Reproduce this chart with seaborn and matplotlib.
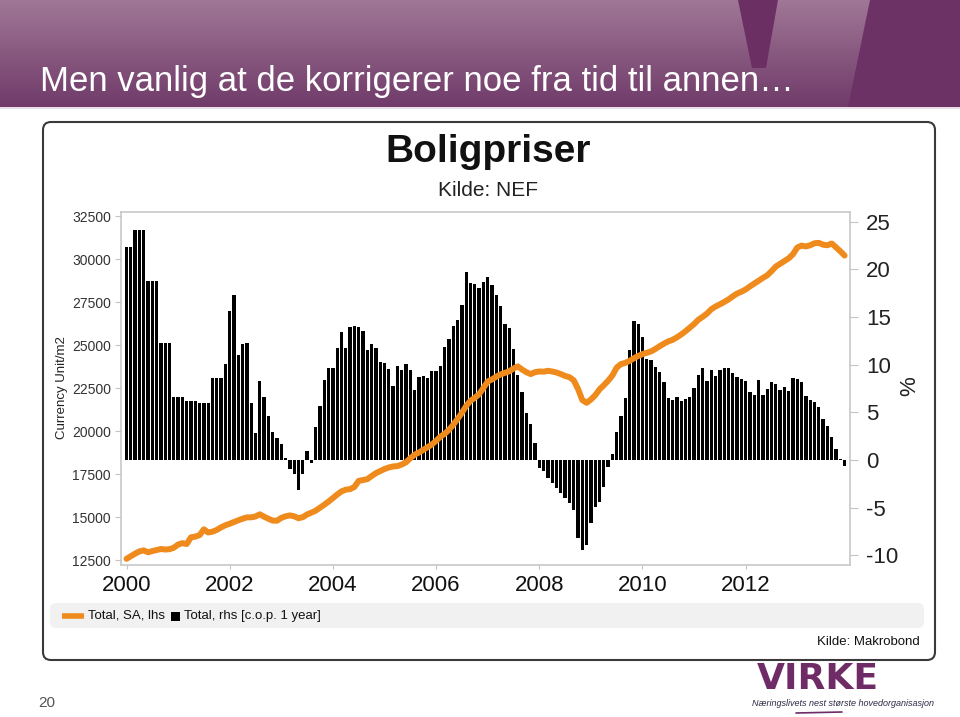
import numpy as np
import pandas as pd
import matplotlib
matplotlib.use("Agg")
import matplotlib.pyplot as plt
import seaborn as sns
from matplotlib import font_manager
from matplotlib.patches import FancyBboxPatch, Polygon, Rectangle

# ---------------- data ----------------
start_period = "2000-01"
end_period = "2013-12"

# Total, SA, lhs  (Currency Unit/m2), monthly
price_sa = [
    12570, 12720, 12870, 13000, 13060, 12950, 13020, 13080, 13140, 13110, 13130, 13215,
    13400, 13480, 13430, 13820, 13860, 13950, 14285, 14100, 14150, 14250, 14400, 14520,
    14610, 14710, 14810, 14900, 14980, 14980, 15030, 15157, 15020, 14900, 14790, 14785,
    14950, 15040, 15095, 15040, 14930, 14990, 15150, 15255, 15370, 15540, 15715, 15900,
    16100, 16310, 16490, 16590, 16620, 16750, 17100, 17150, 17200, 17380, 17550, 17670,
    17790, 17880, 17940, 17960, 18050, 18180, 18420, 18620, 18750, 18900, 19060, 19215,
    19430, 19670, 19840, 20070, 20370, 20700, 21060, 21460, 21760, 21930, 22140, 22500,
    22880, 23000, 23160, 23290, 23380, 23470, 23630, 23760, 23570, 23420, 23310, 23420,
    23460, 23450, 23500, 23460, 23400, 23310, 23200, 23130, 22950, 22450, 21800, 21640,
    21830, 22080, 22420, 22660, 22920, 23230, 23690, 23890, 23960, 24080, 24230, 24360,
    24470, 24545, 24630, 24770, 24930, 25080, 25210, 25300, 25445, 25610, 25800, 26010,
    26220, 26470, 26640, 26830, 27080, 27240, 27365, 27500, 27650, 27830, 27990, 28100,
    28230, 28410, 28575, 28740, 28900, 29050, 29290, 29560, 29720, 29880, 30040, 30280,
    30670, 30780, 30730, 30800, 30915, 30940, 30830, 30800, 30900, 30680, 30450, 30200,
]

# Total, rhs [c.o.p. 1 year]  (%), monthly
yoy_change = [
    22.3, 22.3, 24.1, 24.1, 24.1, 18.8, 18.8, 18.8, 12.3, 12.3, 12.3, 6.65,
    6.65, 6.65, 6.2, 6.2, 6.2, 5.95, 5.95, 5.95, 8.65, 8.65, 8.65, 10.05,
    15.6, 17.3, 11.0, 12.2, 12.3, 5.95, 2.8, 8.3, 6.65, 4.6, 2.9, 2.3,
    1.7, 0.2, -0.9, -1.5, -3.1, -1.5, 0.9, -0.35, 3.5, 5.7, 8.4, 9.7,
    9.7, 11.7, 13.4, 11.75, 13.9, 14.1, 13.9, 13.55, 11.55, 12.15, 11.8, 10.3,
    10.15, 9.55, 7.8, 9.9, 9.45, 10.1, 9.45, 7.35, 8.7, 8.8, 8.6, 9.3,
    9.35, 9.9, 11.9, 12.7, 14.1, 14.7, 16.25, 19.7, 18.6, 18.5, 18.0, 18.7,
    19.25, 18.4, 17.3, 16.2, 14.25, 13.8, 11.6, 8.9, 7.1, 4.9, 3.75, 1.75,
    -0.8, -1.15, -1.85, -2.45, -2.9, -3.5, -3.95, -4.55, -5.2, -8.15, -9.4, -8.9,
    -6.65, -4.9, -4.4, -2.8, -0.7, 0.63, 2.9, 4.6, 6.5, 11.55, 14.6, 14.3,
    12.9, 10.6, 10.5, 9.8, 9.2, 8.2, 6.55, 6.3, 6.65, 6.2, 6.4, 6.65,
    7.6, 8.95, 9.7, 8.3, 9.4, 8.85, 9.4, 9.6, 9.6, 9.1, 8.75, 8.5,
    8.3, 7.15, 6.85, 8.4, 6.85, 7.45, 8.2, 7.95, 7.3, 7.7, 7.25, 8.65,
    8.5, 8.15, 6.7, 6.3, 6.05, 5.6, 4.3, 3.6, 2.45, 1.2, 0.15, -0.6,
]

left_ticks = [12500, 15000, 17500, 20000, 22500, 25000, 27500, 30000, 32500]
right_ticks = [-10, -5, 0, 5, 10, 15, 20, 25]
year_ticks = [2000, 2002, 2004, 2006, 2008, 2010, 2012]

slide_title = "Men vanlig at de korrigerer noe fra tid til annen…"
chart_title = "Boligpriser"
chart_subtitle = "Kilde: NEF"
left_label = "Currency Unit/m2"
right_label = "%"
legend_line = "Total, SA, lhs"
legend_bar = "Total, rhs [c.o.p. 1 year]"
source_text = "Kilde: Makrobond"
page_number = "20"
logo_text = "VIRKE"
logo_tagline = "Næringslivets nest største hovedorganisasjon"

periods = pd.period_range(start_period, end_period, freq="M")
df = pd.DataFrame({
    "t": periods.year + (periods.month - 1) / 12.0,
    "price": price_sa,
    "change": yoy_change,
})

# ---------------- style ----------------
sns.set_theme(style="white")
available = {f.name for f in font_manager.fontManager.ttflist}
BASE = "Liberation Sans" if "Liberation Sans" in available else "DejaVu Sans"
NARROW = "Liberation Sans Narrow" if "Liberation Sans Narrow" in available else BASE
plt.rcParams["font.family"] = [BASE, "DejaVu Sans"]

ORANGE = "#ef8a1c"
W, H = 960, 717
fig = plt.figure(figsize=(W / 100, H / 100), dpi=100)
fig.patch.set_facecolor("white")

# background / decoration layer in pixel coordinates
bg = fig.add_axes([0, 0, 1, 1])
bg.set_xlim(0, W)
bg.set_ylim(H, 0)
bg.axis("off")

grad = np.linspace(0, 1, 256).reshape(-1, 1)
top_c = np.array([0xa0, 0x77, 0x96]) / 255
bot_c = np.array([0x70, 0x3b, 0x6a]) / 255
img = top_c[None, None, :] * (1 - grad[:, :, None]) + bot_c[None, None, :] * grad[:, :, None]
bg.imshow(img, extent=[0, W, 107, 0], aspect="auto", zorder=0)
bg.add_patch(Polygon([[738, 0], [778, 0], [766, 68], [752, 68]], closed=True,
                     facecolor="#6c2f64", edgecolor="none", zorder=1))
bg.add_patch(Polygon([[870, 0], [W, 0], [W, 107], [848, 107]], closed=True,
                     facecolor="#6c3265", edgecolor="none", zorder=1))
bg.add_patch(Rectangle((0, 107), W, 2, facecolor="#e9e0e7", edgecolor="none", zorder=1))

title_fs = 30 if NARROW != BASE else 25
bg.text(40, 91, slide_title, color="white", fontsize=title_fs,
        family=[NARROW, "DejaVu Sans"], va="baseline", ha="left", zorder=2)

# chart panel
bg.add_patch(FancyBboxPatch((43, 122), 892, 538, boxstyle="round,pad=0,rounding_size=8",
                            facecolor="white", edgecolor="#3a3a3a", linewidth=1.5, zorder=1))
bg.add_patch(FancyBboxPatch((50, 603), 874, 25, boxstyle="round,pad=0,rounding_size=6",
                            facecolor="#f1f1f1", edgecolor="none", zorder=2))

bg.text(488, 152, chart_title, fontsize=28, fontweight="bold", ha="center", va="center",
        color="#111111", zorder=3)
bg.text(488, 190, chart_subtitle, fontsize=15, ha="center", va="center", color="#222222", zorder=3)
bg.text(62, 388, left_label, fontsize=9.5, rotation=90, ha="center", va="center",
        color="#222222", zorder=3)
bg.text(910, 386, right_label, fontsize=16, rotation=90, ha="center", va="center",
        color="#222222", zorder=3)

# legend
bg.plot([62, 84], [616, 616], color=ORANGE, linewidth=4, solid_capstyle="butt", zorder=3)
bg.text(88, 616, legend_line, fontsize=9.5, ha="left", va="center", color="#111111", zorder=3)
bg.add_patch(Rectangle((171, 611.5), 9, 9, facecolor="black", edgecolor="none", zorder=3))
bg.text(184, 616, legend_bar, fontsize=9.5, ha="left", va="center", color="#111111", zorder=3)
bg.text(920, 642, source_text, fontsize=9.5, ha="right", va="center", color="#111111", zorder=3)

# page number and logo
bg.text(38, 703, page_number, fontsize=11, ha="left", va="center", color="#555555", zorder=3)
bg.text(818, 679, logo_text, fontsize=26, fontweight="bold", family=["DejaVu Sans"],
        ha="center", va="center", color="#6e2b66", zorder=3)
bg.text(843, 704, logo_tagline, fontsize=6.5, style="italic", ha="center", va="center",
        color="#2b2b45", zorder=3)
bg.plot([796, 842], [713, 712], color="#6e2b66", linewidth=1.2, zorder=3)

# ---------------- chart ----------------
rect = [120.7 / W, 1 - 565 / H, (850 - 120.7) / W, (565 - 211.7) / H]
ax_bar = fig.add_axes(rect)
ax_line = ax_bar.twinx()

sns.barplot(data=df, x="t", y="change", native_scale=True, color="black",
            width=0.78, errorbar=None, linewidth=0, saturation=1, ax=ax_bar)
sns.lineplot(data=df, x="t", y="price", color=ORANGE, linewidth=4.3, ax=ax_line)

px_per_year = 51.6
x0_px = 126.5
ax_bar.set_xlim(2000 - (x0_px - 120.7) / px_per_year, 2000 + (850 - x0_px) / px_per_year)
ax_bar.set_ylim(-11.02, 26.05)
ax_line.set_ylim(12210, 32750)

ax_bar.set_xticks(year_ticks)
ax_bar.set_xticklabels([str(y) for y in year_ticks])
ax_bar.set_yticks(right_ticks)
ax_bar.set_yticklabels([str(v) for v in right_ticks])
ax_bar.yaxis.tick_right()
ax_line.yaxis.tick_left()
ax_line.set_yticks(left_ticks)
ax_line.set_yticklabels([str(v) for v in left_ticks])

for a in (ax_bar, ax_line):
    a.set_xlabel("")
    a.set_ylabel("")
    a.grid(False)

ax_bar.set_facecolor("white")
for s in ax_bar.spines.values():
    s.set_visible(True)
    s.set_color("#c8c8c8")
    s.set_linewidth(1.2)
for s in ax_line.spines.values():
    s.set_visible(False)

ax_bar.tick_params(axis="x", bottom=True, length=3, width=0.8, color="#c4c4c4",
                   labelsize=16, labelcolor="#111111", pad=4)
ax_bar.tick_params(axis="y", right=True, left=False, length=5.5, width=0.8, color="#c4c4c4",
                   labelsize=16, labelcolor="#222222", pad=6, labelright=True, labelleft=False)
ax_line.tick_params(axis="y", left=True, right=False, length=4, width=0.8, color="#c4c4c4",
                    labelsize=10, labelcolor="#333333", pad=3, labelleft=True, labelright=False)

fig.savefig("out.png", dpi=100)
